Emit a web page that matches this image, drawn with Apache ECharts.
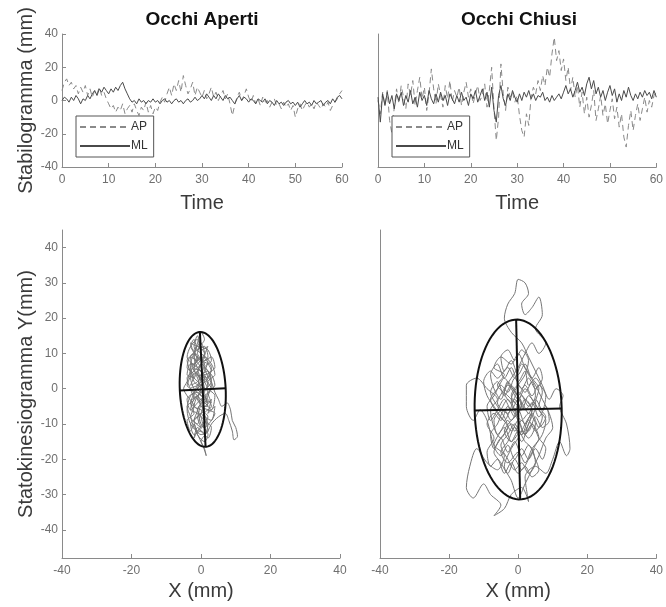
<!DOCTYPE html>
<html>
<head>
<meta charset="utf-8">
<script src="https://cdn.jsdelivr.net/npm/echarts@6/dist/echarts.min.js"></script>
<style>html,body{margin:0;padding:0;background:#fff;}#c{width:666px;height:607px;}</style>
</head>
<body>
<div id="c"></div>
<script>
// ---- Data ----
const sampleStep = 0.5; // seconds between samples
const titles = ['Occhi Aperti', 'Occhi Chiusi'];
const timeTicks = [0, 10, 20, 30, 40, 50, 60];
const stabTicks = [-40, -20, 0, 20, 40];
const statoYTicks = [-40, -30, -20, -10, 0, 10, 20, 30, 40];
const statoXTicks = [-40, -20, 0, 20, 40];

const apOpen = [6,11,13,9,11,7,9,4,8,5,9,3,7,2,6,4,8,3,5,1,-2,-5,-3,-7,-4,-6,-2,-8,-5,-3,-7,-2,-6,-9,-4,-6,-1,-7,-3,-8,-4,-6,-1,2,-1,4,8,3,10,6,12,5,15,9,4,7,11,3,8,5,2,6,1,4,8,2,5,0,3,6,1,4,-2,-9,-3,2,5,0,3,7,2,-1,3,-2,1,-3,2,-1,0,-4,-1,1,-3,-2,-5,-1,-4,-2,-6,-3,-10,-5,-2,-6,-3,-1,-4,-2,-5,-1,-3,-5,-2,-4,-1,-6,-3,-1,1,4,6];
const mlOpen = [0,2,1,-1,2,0,3,1,-2,1,0,3,1,4,6,3,7,5,8,6,4,7,5,8,6,9,11,7,4,1,-1,0,-2,1,-1,0,-2,0,-1,1,-1,0,-2,0,1,-1,0,-2,0,1,-1,0,-2,0,1,-1,0,2,0,1,3,1,4,2,0,3,1,4,2,0,3,1,2,0,-2,1,3,0,2,1,-1,1,0,-2,1,0,-1,1,-2,0,-1,-3,0,-2,-1,-3,-1,0,-2,-1,-3,-1,-4,-2,0,-2,-1,-3,0,-2,-1,0,-3,-1,0,-2,1,-1,2,3,1];
const apClosed = [0,-8,5,-3,6,-12,-20,-4,7,-2,9,2,-5,10,3,12,-3,6,14,1,8,-6,4,19,7,-2,10,3,-4,9,1,12,-1,6,2,8,-3,5,11,2,7,-2,4,9,0,3,10,-4,6,20,-5,-24,-10,22,4,-6,8,2,5,-1,3,-9,-18,-22,-8,-15,2,8,4,12,6,15,9,20,14,28,38,24,30,18,25,12,20,6,14,2,9,-4,5,-8,2,-10,-3,6,-12,-5,3,-9,-2,-14,-6,1,-11,-4,-16,-8,-22,-28,-15,-6,-18,-9,-2,-12,-5,2,-7,0,-4,3,5];
const mlClosed = [2,-13,4,-3,5,-2,3,-5,4,0,5,-3,3,-1,6,-2,2,-4,5,0,3,-3,6,1,-2,4,-1,5,0,3,-3,4,1,-2,3,-1,5,0,2,-3,4,1,6,-1,3,7,0,5,-4,8,-6,-13,3,9,1,-3,4,0,6,2,-1,4,0,5,2,6,1,4,0,3,2,5,0,2,-1,3,0,2,4,1,5,9,4,7,2,6,11,5,8,3,10,14,7,12,4,8,2,6,0,5,9,3,7,-1,4,0,6,2,8,3,0,4,1,5,2,6,3,5,1,6,2];

const openPathX = [0,-1,-2,-1,-3,-2,-1,0,1,-1,-3,-4,-2,-3,-1,1,2,0,-2,-1,0,2,3,1,2,0,-2,-4,-3,-1,1,3,2,4,3,1,-1,-3,-4,-5,-4,-2,-3,-1,0,1,-1,-2,-1,1,2,1,3,2,0,-2,-3,-1,0,2,3,4,5,6,7.5,8.5,9,10,10.5,9.5,9,8,7,5,3,2,0,1,1.5,0.5,-1,-2,-3,-4,-2,-3,-1,0,2,4,3,1,0,-1,1,2,0,-2,-4,-3,-1,1,3,2,0,-2,-3,-1,1,0,-1,-2,0,1,-1,0,2,1,-1,0,
  0,-1,-2,-3,-2,-4,-3,-4,-2,-3,-1,-2,0,-1,1,0,2,1,3,2,0,1,-1,0,-2,-1,-3,-2,0,-1,1,3,2,4,3,1,2,0,-2,-3,-4,-2,-3,-1,0,2,3,1,2,0,-1,-3,-4,-2,0,1,3,4,2,3,1,-1,-3,-4,-3,-1,1,2,0,-2,-1,1,0,-2,-3,-1,1,2,0,-1,1,2,4,3,1,0,-2,-1,1,2,0,-1,-3,-2,0,2,1,-1,-2,-1,1,0,-2,-4,-3,-1,1,2,3,2,4,3,1,-1,-2,0,1,-1,-2,0,-1,1,3,2,0,-2,-3,-1,0,2,1,-1,0];
const openPathY = [0,3,6,9,12,14,11,13,10,8,9,6,4,1,2,5,8,10,12,15,12,11,8,6,3,1,-1,-3,-6,-4,-2,0,2,4,7,9,7,5,2,0,-2,-5,-8,-10,-7,-9,-12,-14,-11,-13,-10,-7,-5,-3,-2,0,3,5,7,5,2,-1,-3,-5,-4,-6,-9,-11,-13.5,-14.5,-12,-9,-7,-8,-10,-12,-15,-17,-19,-16,-13,-10,-12,-9,-7,-4,-2,-5,-6,-7,-9,-11,-8,-6,-3,-1,1,3,4,7,6,4,5,7,8,10,13,12,14,16,13,9,6,2,0,-1,1,3,4,2,
  2,5,3,7,10,8,4,1,-1,-4,-6,-9,-11,-8,-6,-3,-4,-1,2,5,4,7,10,13,11,8,6,2,0,-3,-5,-3,-7,-5,-9,-8,-12,-13,-11,-8,-5,-3,0,1,4,3,6,9,12,11,14,12,9,7,9,6,4,1,-1,-4,-3,-1,-2,-6,-10,-12,-10,-8,-6,-5,-2,0,3,5,9,11,12,9,7,4,2,0,-2,-6,-4,-7,-9,-13,-15,-13,-10,-7,-6,-3,-1,1,4,6,9,12,10,7,5,3,0,-2,-4,-2,1,4,6,9,8,9,6,5,3,1,-2,-4,-6,-9,-11,-14,-12,-13,-10,-8,-5,-5,-2,0,2];
const closedPathX = [0,-3,-6,-4,-7,-5,-2,0,2,4,6,5,7,5,3,1,-2,-5,-7,-8,-6,-9,-12,-15,-15,-13,-11,-9,-7,-4,-6,-9,-12,-14,-15,-13,-10,-8,-5,-7,-4,-2,1,3,2,5,8,10,12,14,15,14,12,13,11,9,7,5,3,1,-2,-4,-3,-1,0,2,3,1,2,4,6,7,5,8,6,4,2,0,-2,-4,-6,-3,-1,1,3,5,3,1,-1,-3,-5,-3,0,2,4,6,4,2,0,-2,-4,-6,-8,-6,-4,-2,0,2,4,6,8,7,5,3,1,-1,-3,-5,-7,-5,-3,-5,-7,-9,-10,-8,-6,-3,-1,1,3,5,7,9,10,8,6,4,2,0,-2,-4,-2,0,2,4,2,0,-2,-4,-3,-1,1,0,-2,-4,-2,1,3,5,3,1,-1,1,0,
  0,-3,-5,-7,-8,-6,-4,-2,0,2,3,5,7,6,8,6,4,2,0,-2,-4,-6,-8,-7,-5,-3,-1,1,3,5,6,4,2,0,-2,-4,-6,-8,-9,-7,-9,-7,-5,-3,-1,1,3,5,7,8,6,4,2,0,-2,-4,-6,-8,-6,-4,-2,0,2,4,6,8,7,5,3,1,-1,-3,-5,-7,-5,-3,-1,1,3,5,7,9,8,6,4,2,0,-2,-4,-6,-8,-9,-7,-5,-3,-1,1,3,5,7,6,4,2,0,-2,-4,-5,-3,-1,1,3,2,0,-2,0,2,4,3,1,-1,-3,-5,-3,-1,1,3,5,4,2,0,-2,-4,-6,-7,-5,-3,-1,1,3,5,4,2,0,-2,0];
const closedPathY = [-5,-2,1,4,6,9,7,10,6,3,0,-4,-8,-12,-9,-13,-10,-14,-11,-6,-3,0,3,1,-5,-9,-6,-9,-16,-19,-23,-21,-17,-22,-28,-31,-27,-30,-33,-36,-34,-30,-28,-32,-25,-22,-24,-20,-15,-19,-17,-10,-5,-2,0,-3,1,5,9,13,16,20,24,27,31,30,27,24,21,23,26,21,17,13,10,13,10,6,3,0,-4,-7,-3,-6,-2,-5,-10,-15,-11,-15,-18,-21,-18,-21,-17,-14,-10,-13,-9,-6,-9,-7,-3,0,3,0,-3,0,-3,-6,-9,-13,-16,-20,-23,-20,-24,-21,-18,-14,-11,-8,-5,-2,2,5,3,6,3,7,4,1,-3,-7,-11,-14,-19,-23,-27,-31,-26,-22,-17,-14,-10,-6,-3,-1,-4,-1,2,-1,-4,-7,-9,-12,-15,-12,-14,-10,-7,-9,-6,-5,-2,
  -2,1,-3,0,4,7,3,6,2,5,1,3,-1,-5,-8,-11,-7,-10,-6,-9,-6,-10,-13,-17,-14,-18,-15,-19,-16,-20,-23,-25,-22,-24,-21,-24,-20,-22,-18,-14,-10,-7,-9,-5,-8,-4,-7,-3,-6,-2,1,-2,1,-2,1,-2,2,-1,-5,-8,-12,-9,-13,-10,-14,-17,-20,-17,-20,-17,-20,-16,-19,-16,-12,-9,-12,-9,-12,-8,-11,-9,-5,-8,-4,-6,-3,-6,-3,-6,-9,-5,-2,1,-1,3,0,3,0,3,6,3,7,4,8,5,9,11,8,11,8,4,1,-3,-7,-3,-6,-10,-13,-10,-13,-16,-20,-23,-21,-24,-21,-17,-15,-12,-15,-11,-13,-9,-6,-3,-6,-2,-5,-2,2,-1,1,-2,-5];

// confidence ellipses: [centerX, centerY, semi-major (vertical), semi-minor, tilt (rad)]
const openEllipse = [0.5, -0.2, 16.3, 6.6, 0.05];
const closedEllipse = [0, -5.9, 25.5, 12.6, 0.023];

// ---- Chart ----
const FONT = "'Liberation Sans', Arial, Helvetica, sans-serif";
const AXIS_COLOR = '#8a8a8a';
const LABEL_COLOR = '#6f6f6f';
const NAME_COLOR = '#3a3a3a';

function pairs(xs, ys) { return xs.map((x, i) => [x, ys[i]]); }
function timed(vals) { return vals.map((v, i) => [i * sampleStep, v]); }

function baseAxis(extra) {
  return Object.assign({
    type: 'value',
    splitLine: { show: false },
    axisLine: { show: true, onZero: false, lineStyle: { color: AXIS_COLOR, width: 1 } },
    axisTick: { show: true, inside: true, length: 4, lineStyle: { color: AXIS_COLOR } },
    axisLabel: { color: LABEL_COLOR, fontSize: 12, fontFamily: FONT, margin: 7 },
    nameTextStyle: { color: NAME_COLOR, fontSize: 20, fontFamily: FONT },
    nameLocation: 'middle'
  }, extra);
}

function ellipseRender(params, api) {
  const cx = api.value(0), cy = api.value(1), a = api.value(2), b = api.value(3), ang = api.value(4);
  const ca = Math.cos(ang), sa = Math.sin(ang);
  const toPx = (lx, ly) => api.coord([cx + lx * ca - ly * sa, cy + lx * sa + ly * ca]);
  const pts = [];
  for (let k = 0; k <= 90; k++) {
    const t = 2 * Math.PI * k / 90;
    pts.push(toPx(b * Math.cos(t), a * Math.sin(t)));
  }
  const st = { stroke: '#111', lineWidth: 2, fill: null };
  return {
    type: 'group',
    children: [
      { type: 'polyline', shape: { points: pts }, style: st },
      { type: 'polyline', shape: { points: [toPx(0, a), toPx(0, -a)] }, style: st },
      { type: 'polyline', shape: { points: [toPx(-b, 0), toPx(b, 0)] }, style: st }
    ]
  };
}

const legendCommon = {
  orient: 'vertical',
  data: ['AP', 'ML'],
  itemWidth: 50,
  itemHeight: 12,
  itemGap: 7,
  padding: [5, 6, 5, 3],
  borderColor: '#555',
  borderWidth: 1,
  borderRadius: 0,
  backgroundColor: '#fff',
  itemStyle: { opacity: 0 },
  textStyle: { color: '#333', fontSize: 12, fontFamily: FONT, padding: [0, 0, 0, -4] },
  selectedMode: false
};

const apStyle = { color: '#8a8a8a', width: 1, type: [6, 4] };
const mlStyle = { color: '#4a4a4a', width: 1, type: 'solid' };
const pathStyle = { color: '#767676', width: 1 };

const option = {
  animation: false,
  backgroundColor: '#fff',
  textStyle: { fontFamily: FONT },
  graphic: [
    { type: 'text', x: 202, y: 20, style: { text: titles[0], textAlign: 'center', textVerticalAlign: 'middle', font: "bold 19px 'Liberation Sans', Arial, sans-serif", fill: '#111' } },
    { type: 'text', x: 519, y: 20, style: { text: titles[1], textAlign: 'center', textVerticalAlign: 'middle', font: "bold 19px 'Liberation Sans', Arial, sans-serif", fill: '#111' } }
  ],
  legend: [
    Object.assign({ left: 76, top: 116 }, legendCommon),
    Object.assign({ left: 392, top: 116 }, legendCommon)
  ],
  grid: [
    { left: 62, top: 34, width: 280, height: 133 },
    { left: 378, top: 34, width: 282, height: 133 },
    { left: 62, top: 230, width: 278, height: 328 },
    { left: 380, top: 230, width: 279, height: 328 }
  ],
  xAxis: [
    baseAxis({ gridIndex: 0, min: 0, max: 60, interval: 10, name: 'Time', nameGap: 26 }),
    baseAxis({ gridIndex: 1, min: 0, max: 60, interval: 10, name: 'Time', nameGap: 26 }),
    baseAxis({ gridIndex: 2, min: -40, max: 40, interval: 20, name: 'X (mm)', nameGap: 18,
      axisLabel: { color: LABEL_COLOR, fontSize: 12, fontFamily: FONT, margin: 7, customValues: statoXTicks },
      axisTick: { show: true, inside: true, length: 4, lineStyle: { color: AXIS_COLOR }, customValues: statoXTicks } }),
    baseAxis({ gridIndex: 3, min: -40, max: 40, interval: 20, name: 'X (mm)', nameGap: 18,
      axisLabel: { color: LABEL_COLOR, fontSize: 12, fontFamily: FONT, margin: 7, customValues: statoXTicks },
      axisTick: { show: true, inside: true, length: 4, lineStyle: { color: AXIS_COLOR }, customValues: statoXTicks } })
  ],
  yAxis: [
    baseAxis({ gridIndex: 0, min: -40, max: 40, interval: 20, name: 'Stabilogramma (mm)', nameGap: 23,
      axisLabel: { color: LABEL_COLOR, fontSize: 12, fontFamily: FONT, margin: 4, customValues: stabTicks },
      axisTick: { show: true, inside: true, length: 4, lineStyle: { color: AXIS_COLOR }, customValues: stabTicks } }),
    baseAxis({ gridIndex: 1, min: -40, max: 40, interval: 20, axisLabel: { show: false }, axisTick: { show: false } }),
    baseAxis({ gridIndex: 2, min: -48, max: 45, name: 'Statokinesiogramma Y(mm)', nameGap: 26,
      axisLabel: { color: LABEL_COLOR, fontSize: 12, fontFamily: FONT, margin: 4, customValues: statoYTicks },
      axisTick: { show: true, inside: true, length: 4, lineStyle: { color: AXIS_COLOR }, customValues: statoYTicks } }),
    baseAxis({ gridIndex: 3, min: -48, max: 45, axisLabel: { show: false }, axisTick: { show: false } })
  ],
  series: [
    { name: 'AP', type: 'line', xAxisIndex: 0, yAxisIndex: 0, data: timed(apOpen), showSymbol: false, symbol: 'none', lineStyle: apStyle, itemStyle: { color: '#8a8a8a' } },
    { name: 'ML', type: 'line', xAxisIndex: 0, yAxisIndex: 0, data: timed(mlOpen), showSymbol: false, symbol: 'none', lineStyle: mlStyle, itemStyle: { color: '#4a4a4a' } },
    { name: 'AP', type: 'line', xAxisIndex: 1, yAxisIndex: 1, data: timed(apClosed), showSymbol: false, symbol: 'none', lineStyle: apStyle, itemStyle: { color: '#8a8a8a' } },
    { name: 'ML', type: 'line', xAxisIndex: 1, yAxisIndex: 1, data: timed(mlClosed), showSymbol: false, symbol: 'none', lineStyle: mlStyle, itemStyle: { color: '#4a4a4a' } },
    { name: 'openPath', type: 'line', xAxisIndex: 2, yAxisIndex: 2, data: pairs(openPathX, openPathY), showSymbol: false, symbol: 'none', smooth: 0.3, lineStyle: pathStyle },
    { name: 'closedPath', type: 'line', xAxisIndex: 3, yAxisIndex: 3, data: pairs(closedPathX, closedPathY), showSymbol: false, symbol: 'none', smooth: 0.3, lineStyle: pathStyle },
    { name: 'openEllipse', type: 'custom', xAxisIndex: 2, yAxisIndex: 2, renderItem: ellipseRender, data: [openEllipse], z: 5 },
    { name: 'closedEllipse', type: 'custom', xAxisIndex: 3, yAxisIndex: 3, renderItem: ellipseRender, data: [closedEllipse], z: 5 }
  ]
};

const chart = echarts.init(document.getElementById('c'), null, { renderer: 'canvas' });
chart.setOption(option);
</script>
</body>
</html>
